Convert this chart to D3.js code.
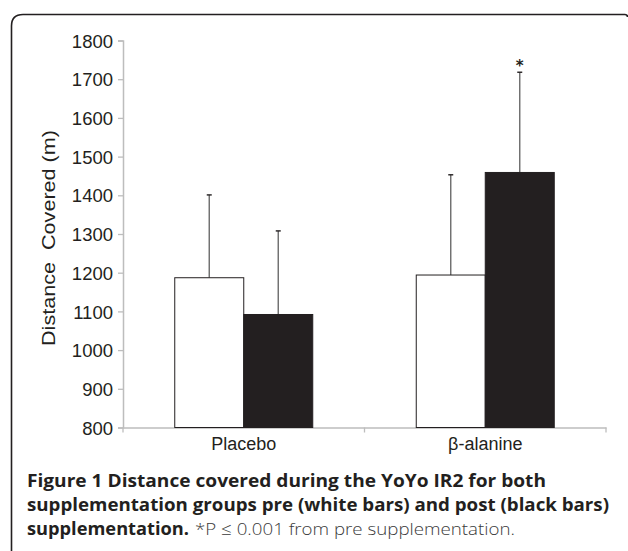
<!DOCTYPE html>
<html>
<head>
<meta charset="utf-8">
<script src="https://cdn.jsdelivr.net/npm/d3@7"></script>
<style>
  body { margin: 0; background: #fff; }
  svg { display: block; }
  .tick text { font-family: "Liberation Sans", Arial, sans-serif; }
</style>
</head>
<body>
<svg id="fig" width="628" height="551"></svg>
<script>
var groups = ['Placebo', '\u03b2-alanine'],
    phases = ['pre', 'post'],
    preMean = [1187, 1194],
    postMean = [1092, 1459],
    preSD = [214, 259],
    postSD = [216, 259],
    starred = [false, true],
    yTicks = [800, 900, 1000, 1100, 1200, 1300, 1400, 1500, 1600, 1700, 1800];

var ink = '#231f20',
    svg = d3.select('#fig');

// frame round the figure (top and left only)
svg.append('path')
    .attr('d', 'M11.5,551 V26 Q11.5,14.5 23,14.5 H625 Q627.5,14.5 627.5,17')
    .attr('fill', 'none')
    .attr('stroke', ink)
    .attr('stroke-width', 1.6);

var y = d3.scaleLinear().domain([800, 1800]).range([427.5, 40.5]),
    x = d3.scaleBand().domain(groups).range([123, 606]),
    x1 = d3.scaleBand().domain(phases).range([0, x.bandwidth()]).paddingOuter(0.75).paddingInner(0);

var rows = groups.map(function(g, i) {
  return [
    { group: g, phase: 'pre', mean: preMean[i], sd: preSD[i], star: false },
    { group: g, phase: 'post', mean: postMean[i], sd: postSD[i], star: starred[i] }
  ];
});
var bars = d3.merge(rows);

// y axis
var yAxis = svg.append('g')
    .attr('transform', 'translate(123,0)')
    .call(d3.axisLeft(y).tickValues(yTicks).tickSize(5).tickPadding(5).tickFormat(d3.format('d')));
yAxis.select('.domain').attr('stroke', '#bdbdbd').attr('stroke-width', 1.5);
yAxis.selectAll('.tick line').attr('stroke', '#bdbdbd').attr('stroke-width', 1.3);
yAxis.selectAll('.tick text')
    .attr('fill', ink)
    .style('font-size', '18.5px')
    .attr('dy', '0.36em');

// x axis
var xAxis = svg.append('g')
    .attr('transform', 'translate(0,427.5)')
    .call(d3.axisBottom(x).tickSize(0).tickPadding(10));
xAxis.select('.domain').attr('stroke', '#bdbdbd').attr('stroke-width', 1.5);
xAxis.selectAll('.tick text')
    .attr('fill', ink)
    .style('font-size', '18px');

var edges = groups.map(function(g) { return x(g); }).concat([x.range()[1]]);
xAxis.selectAll('line.edge')
    .data(edges)
  .enter().append('line')
    .attr('class', 'edge')
    .attr('x1', function(d) { return d; })
    .attr('x2', function(d) { return d; })
    .attr('y1', 0)
    .attr('y2', 5)
    .attr('stroke', '#bdbdbd')
    .attr('stroke-width', 1.3);

// error bars (upper only)
var err = svg.append('g');
err.selectAll('line.whisker')
    .data(bars)
  .enter().append('line')
    .attr('class', 'whisker')
    .attr('x1', function(d) { return x(d.group) + x1(d.phase) + x1.bandwidth() / 2; })
    .attr('x2', function(d) { return x(d.group) + x1(d.phase) + x1.bandwidth() / 2; })
    .attr('y1', function(d) { return y(d.mean); })
    .attr('y2', function(d) { return y(d.mean + d.sd); })
    .attr('stroke', '#6b6b6b')
    .attr('stroke-width', 1.4);
err.selectAll('line.cap')
    .data(bars)
  .enter().append('line')
    .attr('class', 'cap')
    .attr('x1', function(d) { return x(d.group) + x1(d.phase) + x1.bandwidth() / 2 - 2.5; })
    .attr('x2', function(d) { return x(d.group) + x1(d.phase) + x1.bandwidth() / 2 + 2.5; })
    .attr('y1', function(d) { return y(d.mean + d.sd); })
    .attr('y2', function(d) { return y(d.mean + d.sd); })
    .attr('stroke', ink)
    .attr('stroke-width', 1.4);

// bars
svg.append('g').selectAll('rect')
    .data(bars)
  .enter().append('rect')
    .attr('x', function(d) { return x(d.group) + x1(d.phase); })
    .attr('y', function(d) { return y(d.mean); })
    .attr('width', x1.bandwidth())
    .attr('height', function(d) { return y(800) - y(d.mean); })
    .attr('fill', function(d) { return d.phase == 'pre' ? '#fff' : ink; })
    .attr('stroke', ink)
    .attr('stroke-width', 1);

// significance marks
svg.selectAll('text.star')
    .data(bars.filter(function(d) { return d.star; }))
  .enter().append('text')
    .attr('class', 'star')
    .attr('x', function(d) { return x(d.group) + x1(d.phase) + x1.bandwidth() / 2; })
    .attr('y', function(d) { return y(d.mean + d.sd) - 1; })
    .attr('text-anchor', 'middle')
    .style('font-family', '"DejaVu Sans", sans-serif')
    .style('font-size', '15px')
    .style('font-weight', 'bold')
    .attr('fill', ink)
    .text('*');

// y label
svg.append('text')
    .attr('transform', 'translate(55,238) rotate(-90)')
    .attr('text-anchor', 'middle')
    .style('font-family', '"Liberation Sans", Arial, sans-serif')
    .style('font-size', '19px')
    .attr('fill', ink)
    .attr('textLength', 216)
    .attr('lengthAdjust', 'spacingAndGlyphs')
    .text('Distance\u00a0\u00a0Covered (m)');

// caption
var caption = svg.append('g')
    .style('font-family', '"Open Sans", sans-serif')
    .style('font-size', '17px')
    .attr('fill', ink);

caption.append('text')
    .attr('x', 27).attr('y', 487)
    .attr('textLength', 519).attr('lengthAdjust', 'spacingAndGlyphs')
    .style('font-weight', 'bold')
    .text('Figure 1 Distance covered during the YoYo IR2 for both');

caption.append('text')
    .attr('x', 27).attr('y', 511)
    .attr('textLength', 582).attr('lengthAdjust', 'spacingAndGlyphs')
    .style('font-weight', 'bold')
    .text('supplementation groups pre (white bars) and post (black bars)');

caption.append('text')
    .attr('x', 27).attr('y', 535)
    .attr('textLength', 162).attr('lengthAdjust', 'spacingAndGlyphs')
    .style('font-weight', 'bold')
    .text('supplementation.');

caption.append('text')
    .attr('x', 195).attr('y', 535)
    .attr('textLength', 320).attr('lengthAdjust', 'spacingAndGlyphs')
    .attr('fill', '#3a3a3a')
    .style('font-weight', 300)
    .text('*P \u2264 0.001 from pre supplementation.');
</script>
</body>
</html>
